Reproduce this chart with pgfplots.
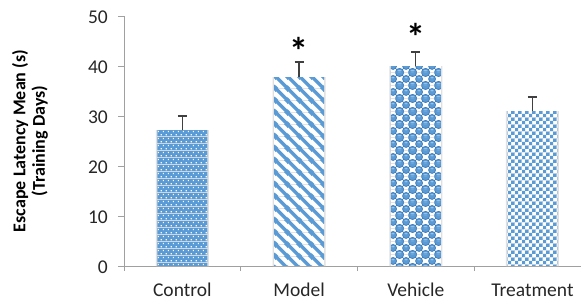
\documentclass[border=0pt]{standalone}
\usepackage{fontspec}
\setmainfont{Carlito}
\usepackage{pgfplots}
\pgfplotsset{compat=1.18}
\usetikzlibrary{patterns}
\definecolor{bblue}{RGB}{91,155,213}
\definecolor{dblue}{RGB}{62,122,185}
\definecolor{lblue}{RGB}{150,195,235}
\definecolor{axgray}{RGB}{160,160,160}

\pgfdeclarepatterninherentlycolored{ctrldots}{\pgfpointorigin}{\pgfpoint{5bp}{7bp}}{\pgfpoint{5bp}{7bp}}{%
  \pgfsetfillcolor{bblue}\pgfpathrectangle{\pgfpointorigin}{\pgfpoint{5bp}{7bp}}\pgfusepath{fill}%
  \pgfsetfillcolor{white}%
  \pgfpathrectangle{\pgfpoint{0.8bp}{0.8bp}}{\pgfpoint{1.4bp}{1.4bp}}%
  \pgfpathrectangle{\pgfpoint{3.3bp}{4.3bp}}{\pgfpoint{1.4bp}{1.4bp}}%
  \pgfusepath{fill}%
}
\pgfdeclarepatterninherentlycolored{modelstripes}{\pgfpointorigin}{\pgfpoint{12bp}{12bp}}{\pgfpoint{12bp}{12bp}}{%
  \pgfsetfillcolor{white}\pgfpathrectangle{\pgfpointorigin}{\pgfpoint{12bp}{12bp}}\pgfusepath{fill}%
  \pgfsetstrokecolor{bblue}\pgfsetlinewidth{3.6bp}%
  \pgfpathmoveto{\pgfpoint{-2bp}{2bp}}\pgfpathlineto{\pgfpoint{2bp}{-2bp}}%
  \pgfpathmoveto{\pgfpoint{-2bp}{14bp}}\pgfpathlineto{\pgfpoint{14bp}{-2bp}}%
  \pgfpathmoveto{\pgfpoint{10bp}{14bp}}\pgfpathlineto{\pgfpoint{14bp}{10bp}}%
  \pgfusepath{stroke}%
}
\pgfdeclarepatterninherentlycolored{vehpat}{\pgfpointorigin}{\pgfpoint{12.5bp}{12.5bp}}{\pgfpoint{12.5bp}{12.5bp}}{%
  \pgfsetfillcolor{white}\pgfpathrectangle{\pgfpointorigin}{\pgfpoint{12.5bp}{12.5bp}}\pgfusepath{fill}%
  \pgfsetfillcolor{bblue}%
  \pgfpathrectangle{\pgfpoint{3.125bp}{3.125bp}}{\pgfpoint{6.25bp}{6.25bp}}%
  \pgfpathrectangle{\pgfpoint{-3.125bp}{-3.125bp}}{\pgfpoint{6.25bp}{6.25bp}}%
  \pgfpathrectangle{\pgfpoint{9.375bp}{-3.125bp}}{\pgfpoint{6.25bp}{6.25bp}}%
  \pgfpathrectangle{\pgfpoint{-3.125bp}{9.375bp}}{\pgfpoint{6.25bp}{6.25bp}}%
  \pgfpathrectangle{\pgfpoint{9.375bp}{9.375bp}}{\pgfpoint{6.25bp}{6.25bp}}%
  \pgfusepath{fill}%
  \pgfsetfillcolor{bblue}\pgfsetstrokecolor{dblue}\pgfsetlinewidth{0.7bp}%
  \pgfpathcircle{\pgfpoint{6.25bp}{6.25bp}}{3.6bp}%
  \pgfpathcircle{\pgfpoint{0bp}{0bp}}{3.6bp}%
  \pgfpathcircle{\pgfpoint{12.5bp}{0bp}}{3.6bp}%
  \pgfpathcircle{\pgfpoint{0bp}{12.5bp}}{3.6bp}%
  \pgfpathcircle{\pgfpoint{12.5bp}{12.5bp}}{3.6bp}%
  \pgfusepath{fill,stroke}%
  \pgfsetfillcolor{lblue}%
  \pgfpathellipse{\pgfpoint{6.25bp}{7.6bp}}{\pgfpoint{1.8bp}{0bp}}{\pgfpoint{0bp}{0.8bp}}%
  \pgfpathellipse{\pgfpoint{0bp}{1.35bp}}{\pgfpoint{1.8bp}{0bp}}{\pgfpoint{0bp}{0.8bp}}%
  \pgfpathellipse{\pgfpoint{12.5bp}{1.35bp}}{\pgfpoint{1.8bp}{0bp}}{\pgfpoint{0bp}{0.8bp}}%
  \pgfpathellipse{\pgfpoint{0bp}{13.85bp}}{\pgfpoint{1.8bp}{0bp}}{\pgfpoint{0bp}{0.8bp}}%
  \pgfpathellipse{\pgfpoint{12.5bp}{13.85bp}}{\pgfpoint{1.8bp}{0bp}}{\pgfpoint{0bp}{0.8bp}}%
  \pgfusepath{fill}%
}
\pgfdeclarepatterninherentlycolored{treatchk}{\pgfpointorigin}{\pgfpoint{6.6bp}{6.6bp}}{\pgfpoint{6.6bp}{6.6bp}}{%
  \pgfsetfillcolor{white}\pgfpathrectangle{\pgfpointorigin}{\pgfpoint{6.6bp}{6.6bp}}\pgfusepath{fill}%
  \pgfsetfillcolor{bblue}%
  \pgfpathrectangle{\pgfpointorigin}{\pgfpoint{3.3bp}{3.3bp}}%
  \pgfpathrectangle{\pgfpoint{3.3bp}{3.3bp}}{\pgfpoint{3.3bp}{3.3bp}}%
  \pgfusepath{fill}%
}

\begin{document}
\begin{tikzpicture}
\begin{axis}[
  at={(0,0)}, anchor=south west,
  scale only axis, width=457bp, height=250bp,
  xmin=-0.5, xmax=3.416, ymin=0, ymax=50,
  axis x line=bottom, axis y line=left,
  axis line style={axgray, line width=0.8bp, -},
  ytick={0,10,20,30,40,50},
  xtick={0,1,2,3}, xticklabels={Control,Model,Vehicle,Treatment},
  minor xtick={-0.5,0.5,1.5,2.5},
  tick align=outside,
  tick style={axgray, line width=0.8bp},
  major x tick style={draw=none},
  minor tick length=5bp, major tick length=6bp,
  tick label style={font=\fontsize{19.5bp}{23bp}\selectfont, text=black!85},
  /pgf/number format/assume math mode=true,
  xticklabel style={anchor=base, yshift=-24bp},
  yticklabel style={anchor=east, inner sep=0pt, xshift=-10bp, yshift=-1bp},
  ylabel={Escape Latency Mean (s)\\(Training Days)},
  ylabel style={align=center, font=\fontsize{18bp}{19.5bp}\selectfont\bfseries, at={(axis description cs:-0.2057,0.5)}, anchor=center},
  ybar, bar width=50bp,
  clip=false,
  error bars/error bar style={line width=1.2bp, black!75},
  error bars/error mark options={line width=1.2bp, black!75, mark size=4.5bp, rotate=90},
]
\addplot[bar shift=0pt, bar width=53bp, fill=black!12, draw=none, forget plot]
  coordinates {(0,27.2) (1,37.8) (2,40.0) (3,31.0)};
\addplot[bar shift=0pt, pattern=ctrldots, draw=none,
  error bars/.cd, y dir=plus, y explicit]
  coordinates {(0,27.2) +- (0,2.8)};
\addplot[bar shift=0pt, pattern=modelstripes, draw=none,
  error bars/.cd, y dir=plus, y explicit]
  coordinates {(1,37.8) +- (0,3.0)};
\addplot[bar shift=0pt, pattern=vehpat, draw=none,
  error bars/.cd, y dir=plus, y explicit]
  coordinates {(2,40.0) +- (0,2.8)};
\addplot[bar shift=0pt, pattern=treatchk, draw=none,
  error bars/.cd, y dir=plus, y explicit]
  coordinates {(3,31.0) +- (0,2.8)};
\node[font=\fontsize{38bp}{38bp}\selectfont\bfseries] at (axis cs:1,43.0) {*};
\node[font=\fontsize{38bp}{38bp}\selectfont\bfseries] at (axis cs:2,45.8) {*};
\end{axis}
\pgfresetboundingbox
\useasboundingbox (-124bp,-38bp) rectangle (457bp,266bp);
\end{tikzpicture}
\end{document}
